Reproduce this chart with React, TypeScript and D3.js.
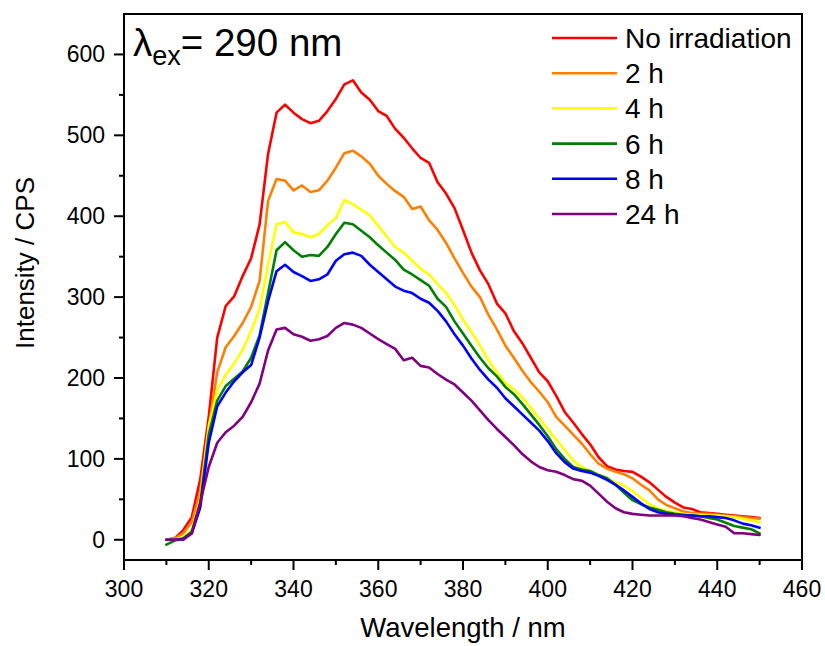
import React from "react";
import * as d3 from "d3";

const wavelengths: number[] = d3.range(310, 451, 2);

const noIrradiation = [0,2,12,28,75,152,250,289,301,326,348,390,477,528,538,528,520,515,518,530,545,563,568,553,544,530,524,508,497,484,472,466,442,428,410,383,355,333,316,292,280,258,243,225,207,196,178,158,145,131,118,102,91,87,85,84,78,71,62,53,46,40,38,34,33,32,31,30,29,28,27];
const h2 = [0,2,8,22,60,140,207,238,252,268,288,320,419,446,444,432,438,430,432,444,460,478,481,474,465,450,440,431,424,409,412,395,383,367,348,330,313,300,278,260,240,225,209,195,183,170,152,141,130,119,106,94,88,84,81,76,68,61,50,43,39,35,33,32,32,31,30,29,28,27,26];
const h4 = [0,0,3,12,50,140,185,204,218,235,258,285,340,390,393,380,378,374,378,389,398,420,415,408,401,388,375,362,355,345,335,328,316,305,290,272,257,240,222,207,194,186,176,163,150,137,124,111,98,90,85,80,76,71,67,60,52,44,39,36,34,32,31,31,30,30,29,28,26,24,22];
const h6 = [-6,-1,2,10,45,130,172,190,199,208,225,253,305,358,368,358,350,352,351,362,378,392,390,382,374,364,355,346,334,328,321,314,298,288,270,255,240,225,212,202,189,180,168,155,142,128,112,100,90,87,85,80,76,68,58,49,44,40,37,34,32,31,30,29,27,25,21,17,15,13,8];
const h8 = [0,0,1,8,40,120,165,182,196,207,216,250,295,332,340,331,326,320,322,328,345,353,355,351,340,331,322,313,308,305,298,293,283,270,254,240,224,210,198,188,175,165,155,145,135,122,107,96,88,85,83,79,74,68,61,53,45,38,34,32,31,30,30,29,29,28,27,24,20,18,15];
const h24 = [0,0,0,8,46,90,120,133,141,152,170,193,234,260,262,254,251,246,248,252,262,268,266,262,255,248,242,236,222,225,215,213,205,198,192,182,172,160,148,137,127,117,106,97,90,86,84,80,75,73,67,57,47,39,34,32,31,30,30,30,30,29,27,25,22,19,16,8,8,7,6];

const seriesNames = ["No irradiation", "2 h", "4 h", "6 h", "8 h", "24 h"];
const seriesColors = ["#ff0000", "#ff8000", "#ffff00", "#008000", "#0000ff", "#800080"];
const seriesValues = [noIrradiation, h2, h4, h6, h8, h24];

const xMajorTicks = [300, 320, 340, 360, 380, 400, 420, 440, 460];
const xMinorTicks = [310, 330, 350, 370, 390, 410, 430, 450];
const yMajorTicks = [0, 100, 200, 300, 400, 500, 600];
const yMinorTicks = [50, 150, 250, 350, 450, 550];

const FONT = "'Liberation Sans', Arial, Helvetica, sans-serif";

export default function App() {
  const W = 825, H = 646;
  const left = 124, right = 802, top = 14, bottom = 560;
  const x = d3.scaleLinear().domain([300, 460]).range([left, right]);
  const y = d3.scaleLinear().domain([-25, 650]).range([bottom, top]);
  const line = d3
    .line<number>()
    .x((_, i) => x(wavelengths[i]))
    .y((d) => y(d))
    .curve(d3.curveLinear);

  const legendX1 = 552, legendX2 = 617, legendTextX = 625;
  const legendY0 = 38, legendDy = 35.2;

  return (
    <div style={{ position: "absolute", left: 0, top: 0 }}>
      <svg width={W} height={H} style={{ display: "block", background: "#fff" }}>
        <rect x={0} y={0} width={W} height={H} fill="#fff" />
        {/* curves */}
        <g fill="none" strokeWidth={2.6} strokeLinejoin="round" strokeLinecap="round">
          {seriesValues.map((vals, i) => (
            <path key={i} d={line(vals) || ""} stroke={seriesColors[i]} />
          ))}
        </g>
        {/* frame */}
        <rect x={left} y={top} width={right - left} height={bottom - top} fill="none" stroke="#000" strokeWidth={2} />
        {/* ticks */}
        <g stroke="#000" strokeWidth={2}>
          {xMajorTicks.map((t) => (
            <line key={"xM" + t} x1={x(t)} x2={x(t)} y1={bottom} y2={bottom + 10} />
          ))}
          {xMinorTicks.map((t) => (
            <line key={"xm" + t} x1={x(t)} x2={x(t)} y1={bottom} y2={bottom + 5} />
          ))}
          {yMajorTicks.map((t) => (
            <line key={"yM" + t} x1={left - 10} x2={left} y1={y(t)} y2={y(t)} />
          ))}
          {yMinorTicks.map((t) => (
            <line key={"ym" + t} x1={left - 5} x2={left} y1={y(t)} y2={y(t)} />
          ))}
        </g>
        <g fontFamily={FONT} fontSize={23} fill="#000">
          {xMajorTicks.map((t) => (
            <text key={"xl" + t} x={x(t)} y={597} textAnchor="middle">
              {t}
            </text>
          ))}
          {yMajorTicks.map((t) => (
            <text key={"yl" + t} x={105} y={y(t) + 8} textAnchor="end">
              {t}
            </text>
          ))}
        </g>
        {/* axis titles */}
        <text x={(left + right) / 2} y={637} textAnchor="middle" fontFamily={FONT} fontSize={27.5} fill="#000">
          Wavelength / nm
        </text>
        <text
          transform={`translate(34, 263) rotate(-90)`}
          textAnchor="middle"
          fontFamily={FONT}
          fontSize={26}
          fill="#000"
        >
          Intensity / CPS
        </text>
        {/* annotation */}
        <text x={133} y={56} fontFamily={FONT} fontSize={38.5} fill="#000">
          λ
          <tspan fontSize={27} dy={9}>ex</tspan>
          <tspan dy={-9}>= 290 nm</tspan>
        </text>
        {/* legend */}
        <g fontFamily={FONT} fontSize={28} fill="#000">
          {seriesNames.map((name, i) => {
            const ly = legendY0 + i * legendDy;
            return (
              <g key={name}>
                <line x1={legendX1} x2={legendX2} y1={ly} y2={ly} stroke={seriesColors[i]} strokeWidth={2.6} />
                <text x={legendTextX} y={ly + 10}>
                  {name}
                </text>
              </g>
            );
          })}
        </g>
      </svg>
    </div>
  );
}
